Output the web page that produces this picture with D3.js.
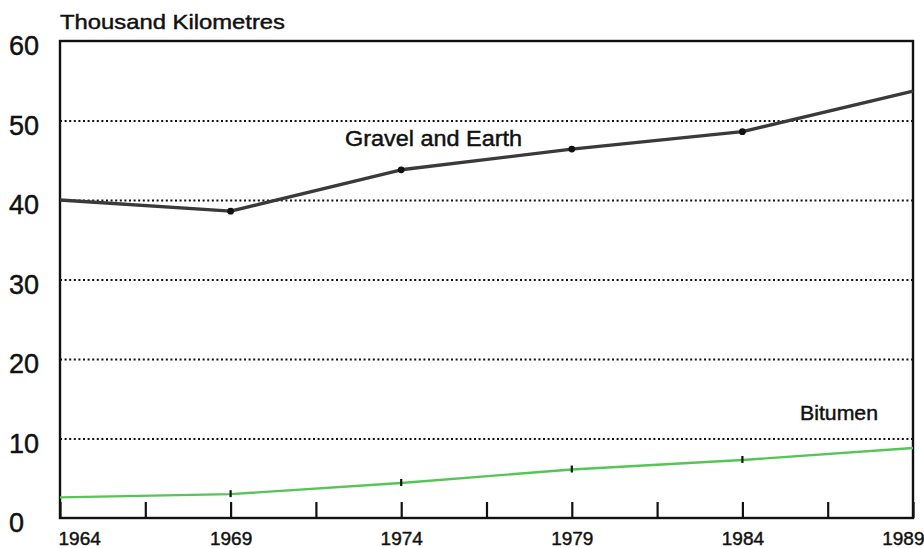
<!DOCTYPE html>
<html lang="en">
  <head>
  <meta charset="utf-8" />
  <title>Road length by surface</title>
  <style>
    body { margin: 0; background: #fff; }
    svg text { font-family: "Liberation Sans", Arial, Helvetica, sans-serif; fill: #111; stroke: #111; stroke-width: 0.45px; }
  </style>
  </head>
  <body>
    <div class="container"></div>

    <script src="https://cdn.jsdelivr.net/npm/d3@7"></script>
    <script type="text/javascript">
      "use strict";

      // data (thousand km)
      let years = [1964, 1969, 1974, 1979, 1984, 1989]
      let gravel = [40.0, 38.6, 43.8, 46.4, 48.6, 53.7]
      let bitumen = [2.6, 3.0, 4.4, 6.1, 7.3, 8.8]
      let yTicks = [0, 10, 20, 30, 40, 50, 60]
      let gridTicks = [10, 20, 30, 40, 50]
      let xTicks = d3.range(1964, 1989.1, 2.5)
      let unitLabel = "Thousand Kilometres"
      let seriesLabels = ["Gravel and Earth", "Bitumen"]

      let width = 924
      let height = 548
      let margin = ({top: 41, right: 11, bottom: 30, left: 60})

      let svg = d3.select(".container").append("svg")
          .attr("width", width)
          .attr("height", height)

      let x = d3.scaleLinear()
          .domain([1964, 1989])
          .range([margin.left, width - margin.right])

      let y = d3.scaleLinear()
          .domain([0, 60])
          .range([height - margin.bottom, margin.top])

      // dotted grid
      svg.append("g")
          .attr("transform", `translate(${margin.left},0)`)
          .call(d3.axisLeft(y).tickValues(gridTicks).tickSize(-(x.range()[1] - margin.left)).tickFormat(""))
          .call(g => g.select(".domain").remove())
          .call(g => g.selectAll(".tick line")
              .attr("stroke", "#111")
              .attr("stroke-width", 2)
              .attr("stroke-dasharray", "2,2.6"))

      // y labels
      svg.append("g")
          .attr("transform", `translate(${margin.left},0)`)
          .call(d3.axisLeft(y).tickValues(yTicks).tickSize(0))
          .call(g => g.select(".domain").remove())
          .call(g => g.selectAll(".tick text")
              .attr("x", -51)
              .attr("dy", 0)
              .attr("y", 13.5)
              .attr("text-anchor", "start")
              .style("font-size", "27px"))

      // x axis with inward ticks
      svg.append("g")
          .attr("transform", `translate(0,${y(0)})`)
          .call(d3.axisBottom(x).tickValues(xTicks).tickSize(-16)
              .tickFormat(d => Number.isInteger(d) && (d - 1964) % 5 == 0 ? d : ""))
          .call(g => g.select(".domain").remove())
          .call(g => g.selectAll(".tick line").attr("stroke", "#111").attr("stroke-width", 2.2))
          .call(g => g.selectAll(".tick text")
              .attr("y", 27)
              .attr("dy", 0)
              .style("font-size", "19px")
              .attr("text-anchor", d => d == 1964 ? "start" : d == 1989 ? "end" : "middle")
              .attr("dx", d => d == 1964 ? -2 : d == 1989 ? 11 : 0))

      // frame
      svg.append("rect")
          .attr("x", x(1964))
          .attr("y", y(60))
          .attr("width", x(1989) - x(1964))
          .attr("height", y(0) - y(60))
          .attr("fill", "none")
          .attr("stroke", "#111")
          .attr("stroke-width", 2.4)

      let line = d3.line()
          .x((d, i) => x(years[i]))
          .y(d => y(d))

      // bitumen
      svg.append("path")
          .datum(bitumen)
          .attr("fill", "none")
          .attr("stroke", "#55c655")
          .attr("stroke-width", 2.4)
          .attr("d", line)

      svg.append("g").selectAll("line")
          .data(bitumen.slice(1, -1))
          .join("line")
            .attr("x1", (d, i) => x(years[i + 1]))
            .attr("x2", (d, i) => x(years[i + 1]))
            .attr("y1", d => y(d) - 4)
            .attr("y2", d => y(d) + 3)
            .attr("stroke", "#111")
            .attr("stroke-width", 2.2)

      // gravel and earth
      svg.append("path")
          .datum(gravel)
          .attr("fill", "none")
          .attr("stroke", "#3a3a3a")
          .attr("stroke-width", 3.4)
          .attr("stroke-linejoin", "round")
          .attr("d", line)

      svg.append("g").selectAll("circle")
          .data(gravel.slice(1, -1))
          .join("circle")
            .attr("cx", (d, i) => x(years[i + 1]))
            .attr("cy", d => y(d))
            .attr("r", 3.4)
            .attr("fill", "#111")

      // labels
      svg.append("text")
          .attr("x", 60).attr("y", 29)
          .attr("textLength", 225).attr("lengthAdjust", "spacingAndGlyphs")
          .style("font-size", "21px")
          .text(unitLabel)

      svg.append("text")
          .attr("x", 345).attr("y", 146)
          .attr("textLength", 177).attr("lengthAdjust", "spacingAndGlyphs")
          .style("font-size", "21.5px")
          .text(seriesLabels[0])

      svg.append("text")
          .attr("x", 800).attr("y", 420)
          .attr("textLength", 78).attr("lengthAdjust", "spacingAndGlyphs")
          .style("font-size", "21px")
          .text(seriesLabels[1])
    </script>
  </body>
</html>
